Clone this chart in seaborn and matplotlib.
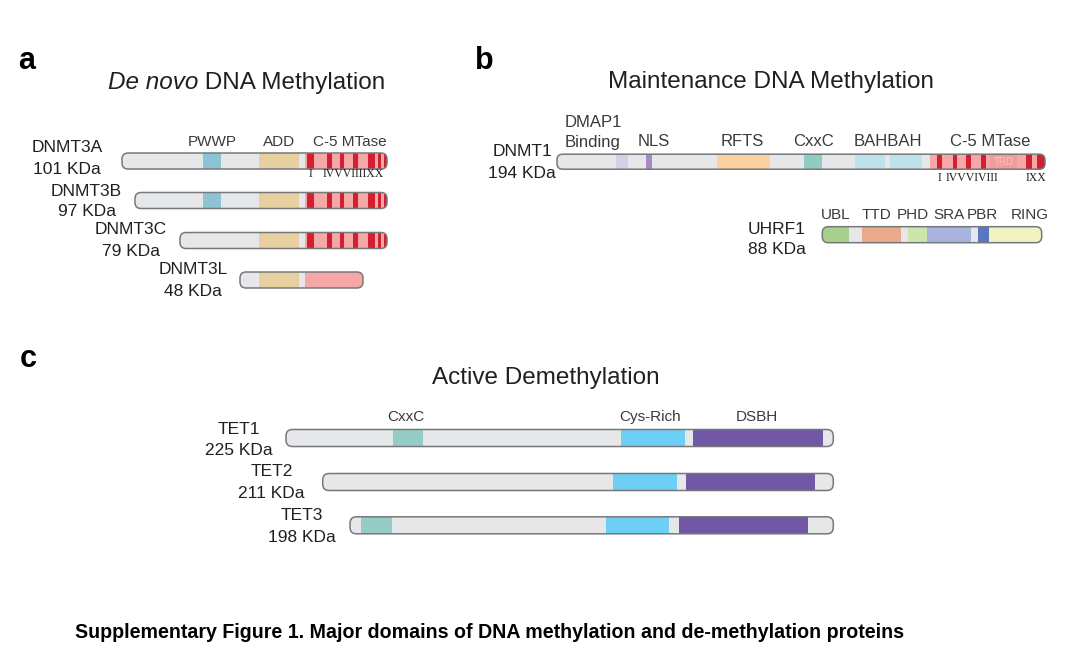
import matplotlib
matplotlib.use('Agg')
import matplotlib.pyplot as plt
from matplotlib.patches import FancyBboxPatch
import seaborn as sns

sns.set_theme(style='white')
plt.rcParams['font.family'] = ['Liberation Sans', 'DejaVu Sans']

GREY = '#e6e7e8'
EDGE = '#77787b'
TXT = '#231f20'
LAB = '#3a3a3c'
PINK = '#f6a7a7'
RED = '#d31f2f'

# ---- panel a: de novo methylation (DNMT3 family) ----
dnmt3_names = ['DNMT3A', 'DNMT3B', 'DNMT3C', 'DNMT3L']
dnmt3_kda = ['101 KDa', '97 KDa', '79 KDa', '48 KDa']
dnmt3_y = [161, 200.5, 240.5, 280]
dnmt3_start = [122, 135, 180, 240]
dnmt3_end = [387, 387, 387, 363]
dnmt3_label_x = [67, 86.5, 131, 193]
dnmt3_name_y = [147, 191, 230, 270]
dnmt3_kda_y = [169, 211, 251, 291]
dnmt3_pwwp = [(203, 221), (203, 221), None, None]
dnmt3_add = (259, 299)
dnmt3_mtase = [(305, 388), (305, 388), (305, 388), (305, 364)]
dnmt3_motifs = [(307, 314), (327, 332), (340, 344), (353, 358), (368, 375), (378, 381), (384, 389)]
dnmt3_domain_labels = ['PWWP', 'ADD', 'C-5 MTase']
dnmt3_domain_x = [212, 279, 350]

# ---- panel b: maintenance methylation ----
dnmt1_span = (557, 1045)
dnmt1_y = 161.7
dnmt1_domains = [(616, 628, '#d8cfe7'), (645.7, 652.3, '#a78bc5'), (716.7, 770, '#fdd0a2'),
                 (804, 822, '#8fcdc2'), (855, 885, '#bfe3eb'), (890, 921.7, '#bfe3eb'),
                 (930, 1046, PINK), (990, 1017, '#f19b9b')]
dnmt1_motifs = [(936.7, 941.7), (953.3, 957.3), (966, 970.7), (981, 986), (1026, 1031.7), (1037, 1047)]
dnmt1_labels = ['NLS', 'RFTS', 'CxxC', 'BAHBAH', 'C-5 MTase']
dnmt1_label_x = [654, 742, 813, 888, 990]

uhrf1_span = (822.3, 1041.7)
uhrf1_y = 234.7
uhrf1_domains = [(822, 849.3, '#a8d08d'), (862.3, 900.7, '#eca98b'), (908.3, 927.3, '#cce5ad'),
                 (927.3, 970.7, '#a8b4de'), (978.3, 988.7, '#5a76bf'), (988.7, 1043, '#f0f2c2')]
uhrf1_labels = ['UBL', 'TTD', 'PHD', 'SRA', 'PBR', 'RING']
uhrf1_label_x = [836, 876.7, 912.7, 949.3, 982.3, 1030]

# ---- panel c: active demethylation (TET) ----
tet_names = ['TET1', 'TET2', 'TET3']
tet_kda = ['225 KDa', '211 KDa', '198 KDa']
tet_y = [438, 482, 525.3]
tet_start = [286, 322.7, 350]
tet_end = [833.3, 833.3, 833.3]
tet_label_x = [239.3, 271.7, 301.7]
tet_name_y = [429.3, 471.7, 515]
tet_kda_y = [450.7, 494, 537.3]
tet_cxxc = [(392.7, 423.3), None, (360.7, 391.7)]
tet_cys = [(620.7, 685), (613.3, 677.3), (606, 669.3)]
tet_dsbh = [(693.3, 823.3), (686, 815.3), (679.3, 808.3)]
tet_domain_labels = ['CxxC', 'Cys-Rich', 'DSBH']
tet_domain_x = [406, 650, 757.3]


def draw_protein(ax, y, start, end, h, domains):
    r = h * 0.38
    body = FancyBboxPatch((start, y - h / 2), end - start, h,
                          boxstyle=f'round,pad=0,rounding_size={r}',
                          fc=GREY, ec='none', zorder=1)
    ax.add_patch(body)
    for s, e, c in domains:
        bars = ax.barh(y, e - s, left=s, height=h, color=c, linewidth=0, zorder=2)
        for b in bars:
            b.set_clip_path(body)
    ax.add_patch(FancyBboxPatch((start, y - h / 2), end - start, h,
                                boxstyle=f'round,pad=0,rounding_size={r}',
                                fc='none', ec=EDGE, lw=1.1, zorder=3))


def name_label(ax, x, y1, y2, name, kda, size=12.5):
    ax.text(x, y1, name, ha='center', va='center', fontsize=size, color=TXT)
    ax.text(x, y2, kda, ha='center', va='center', fontsize=size, color=TXT)


def roman(ax, x, y, s, ha='center'):
    ax.text(x, y, s, ha=ha, va='center', fontsize=8.5, family='Liberation Serif', color=TXT)


fig = plt.figure(figsize=(10.8, 6.52), dpi=100)
ax = fig.add_axes([0, 0, 1, 1])
ax.set_xlim(0, 1080)
ax.set_ylim(652, 0)

# panel letters and titles
for letter, lx, ly in [('a', 27, 61), ('b', 484, 61), ('c', 28, 359)]:
    ax.text(lx, ly, letter, ha='center', va='center', fontsize=22, fontweight='bold', color='black')
t1 = ax.text(108, 94, 'De novo', ha='left', va='bottom', fontsize=17.5, style='italic', color=TXT)
ax.annotate(' DNA Methylation', xy=(1, 0), xycoords=t1, ha='left', va='bottom',
            fontsize=17.5, color=TXT)
ax.text(771, 82, 'Maintenance DNA Methylation', ha='center', va='center', fontsize=17.5, color=TXT)
ax.text(546, 378, 'Active Demethylation', ha='center', va='center', fontsize=17.5, color=TXT)

# panel a
for i in range(len(dnmt3_names)):
    doms = []
    if dnmt3_pwwp[i]:
        doms.append((*dnmt3_pwwp[i], '#8ec3d6'))
    doms.append((*dnmt3_add, '#e8cf9f'))
    doms.append((*dnmt3_mtase[i], PINK))
    if dnmt3_names[i] != 'DNMT3L':
        doms += [(s, e, RED) for s, e in dnmt3_motifs]
    draw_protein(ax, dnmt3_y[i], dnmt3_start[i], dnmt3_end[i], 16, doms)
    name_label(ax, dnmt3_label_x[i], dnmt3_name_y[i], dnmt3_kda_y[i], dnmt3_names[i], dnmt3_kda[i])
for t, x in zip(dnmt3_domain_labels, dnmt3_domain_x):
    ax.text(x, 142.5, t, ha='center', va='center', fontsize=11, color=LAB)
roman(ax, 310.7, 174, 'I')
roman(ax, 322.5, 174, 'IVVVIIIIXX', ha='left')

# panel b
draw_protein(ax, dnmt1_y, *dnmt1_span, 15, dnmt1_domains + [(s, e, RED) for s, e in dnmt1_motifs])
ax.text(1003.5, dnmt1_y, 'TRD', ha='center', va='center', fontsize=7, color='#f8c4c4', zorder=4)
name_label(ax, 522, 151.7, 174, 'DNMT1', '194 KDa')
ax.text(593, 122.7, 'DMAP1', ha='center', va='center', fontsize=12, color=LAB)
ax.text(593, 142, 'Binding', ha='center', va='center', fontsize=12, color=LAB)
for t, x in zip(dnmt1_labels, dnmt1_label_x):
    ax.text(x, 141, t, ha='center', va='center', fontsize=12, color=LAB)
roman(ax, 939.3, 178, 'I')
roman(ax, 971.5, 178, 'IVVVIVIII')
roman(ax, 1036, 178, 'IXX')

draw_protein(ax, uhrf1_y, *uhrf1_span, 16, uhrf1_domains)
name_label(ax, 776.7, 230, 250, 'UHRF1', '88 KDa')
for t, x in zip(uhrf1_labels, uhrf1_label_x):
    ax.text(x, 215, t, ha='center', va='center', fontsize=11, color=LAB)

# panel c
for i in range(len(tet_names)):
    doms = []
    if tet_cxxc[i]:
        doms.append((*tet_cxxc[i], '#95cdc6'))
    doms.append((*tet_cys[i], '#6dcff6'))
    doms.append((*tet_dsbh[i], '#7058a5'))
    draw_protein(ax, tet_y[i], tet_start[i], tet_end[i], 17, doms)
    name_label(ax, tet_label_x[i], tet_name_y[i], tet_kda_y[i], tet_names[i], tet_kda[i])
for t, x in zip(tet_domain_labels, tet_domain_x):
    ax.text(x, 417, t, ha='center', va='center', fontsize=11, color=LAB)

ax.text(75, 632, 'Supplementary Figure 1. Major domains of DNA methylation and de-methylation proteins',
        ha='left', va='center', fontsize=14.1, fontweight='bold', color='black')

ax.set_xlim(0, 1080)
ax.set_ylim(652, 0)
ax.axis('off')
fig.savefig('out.png', dpi=100, facecolor='white')
